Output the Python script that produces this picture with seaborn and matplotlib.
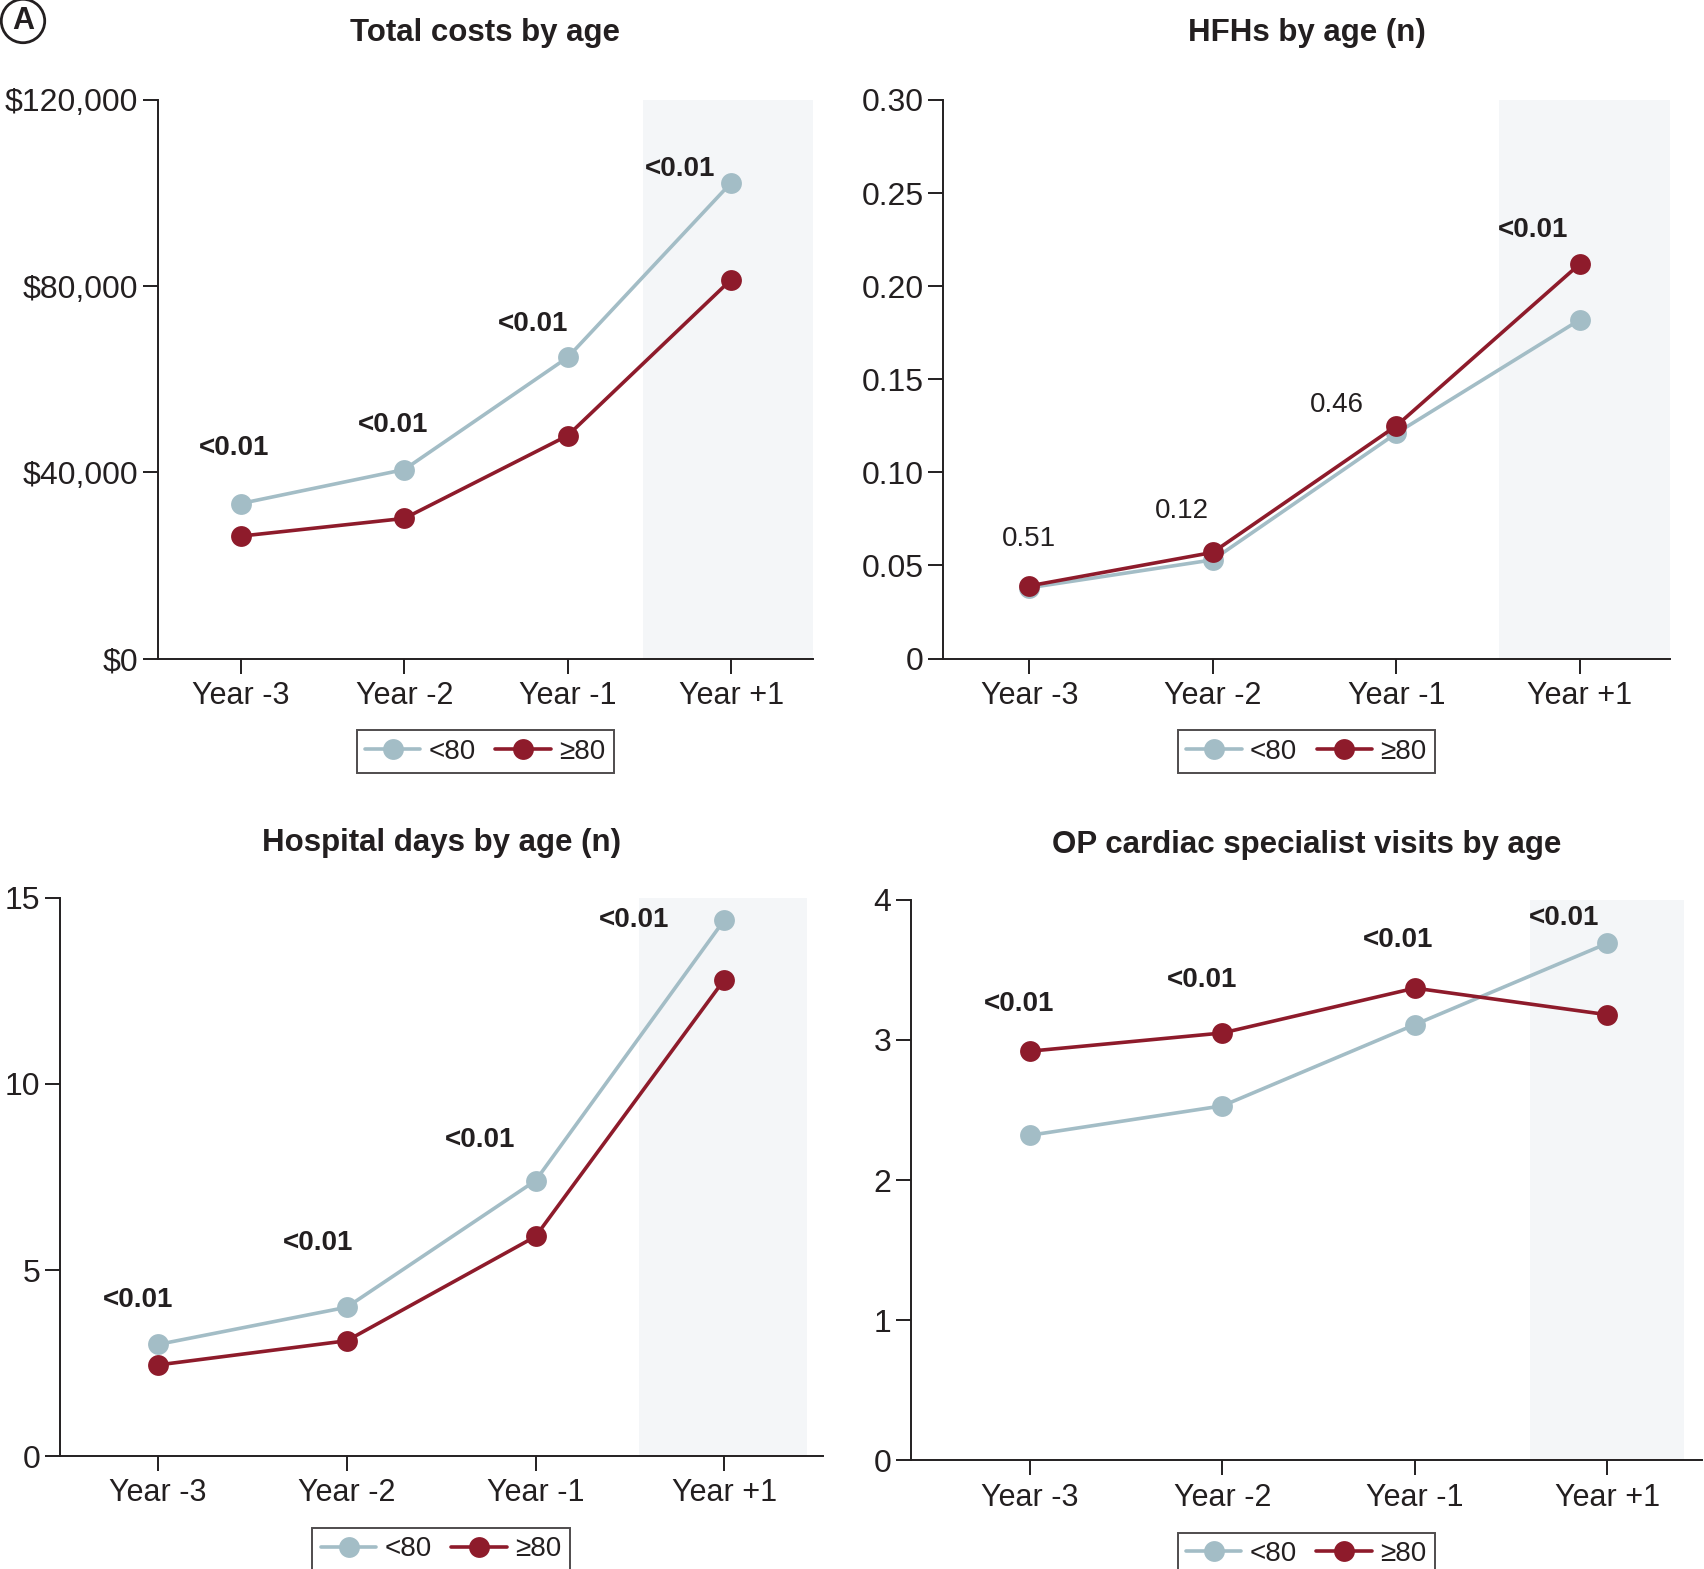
import numpy as np
import pandas as pd
import matplotlib
matplotlib.use("Agg")
import matplotlib.pyplot as plt
from matplotlib.lines import Line2D
import seaborn as sns

# Data ----------------------------------------------------------------
years = ["Year -3", "Year -2", "Year -1", "Year +1"]
groups = ["<80", "\u226580"]

titles = ["Total costs by age", "HFHs by age (n)",
          "Hospital days by age (n)", "OP cardiac specialist visits by age"]

costs_u80 = [33300, 40600, 64700, 102200]
costs_o80 = [26300, 30100, 47900, 81400]
costs_p = ["<0.01", "<0.01", "<0.01", "<0.01"]

hfh_u80 = [0.038, 0.053, 0.121, 0.182]
hfh_o80 = [0.039, 0.057, 0.125, 0.212]
hfh_p = ["0.51", "0.12", "0.46", "<0.01"]

days_u80 = [3.0, 4.0, 7.4, 14.4]
days_o80 = [2.45, 3.1, 5.9, 12.8]
days_p = ["<0.01", "<0.01", "<0.01", "<0.01"]

visits_u80 = [2.32, 2.53, 3.11, 3.69]
visits_o80 = [2.92, 3.05, 3.37, 3.18]
visits_p = ["<0.01", "<0.01", "<0.01", "<0.01"]

costs_ticks = [0, 40000, 80000, 120000]
costs_ticklabels = ["$0", "$40,000", "$80,000", "$120,000"]
hfh_ticks = [0, 0.05, 0.10, 0.15, 0.20, 0.25, 0.30]
hfh_ticklabels = ["0", "0.05", "0.10", "0.15", "0.20", "0.25", "0.30"]
days_ticks = [0, 5, 10, 15]
days_ticklabels = ["0", "5", "10", "15"]
visits_ticks = [0, 1, 2, 3, 4]
visits_ticklabels = ["0", "1", "2", "3", "4"]

# Style ---------------------------------------------------------------
c_u80 = "#A3BDC6"
c_o80 = "#8E1B2B"
c_shade = "#F4F6F8"
c_text = "#231F20"

sns.set_style("white")
plt.rcParams["font.family"] = ["Liberation Sans", "DejaVu Sans"]
plt.rcParams["text.color"] = c_text
plt.rcParams["axes.labelcolor"] = c_text
plt.rcParams["xtick.color"] = c_text
plt.rcParams["ytick.color"] = c_text

fig = plt.figure(figsize=(17.04, 15.69), dpi=100)

panels = [
    dict(u=costs_u80, o=costs_o80, p=costs_p, ticks=costs_ticks, tl=costs_ticklabels,
         rect=[0.0925, 0.5803, 0.3845, 0.356], xlim=(-0.51, 3.5), shade=(2.46, 3.5),
         title_y=1.12, off=[(-5, 40), (-8, 32), (-25, 24), (-37, 10)]),
    dict(u=hfh_u80, o=hfh_o80, p=hfh_p, ticks=hfh_ticks, tl=hfh_ticklabels,
         rect=[0.5534, 0.5803, 0.4266, 0.356], xlim=(-0.47, 3.49), shade=(2.56, 3.49),
         title_y=1.12, off=[(0, 34), (-22, 30), (-43, 15), (-34, 24)]),
    dict(u=days_u80, o=days_o80, p=days_p, ticks=days_ticks, tl=days_ticklabels,
         rect=[0.0351, 0.0719, 0.4476, 0.356], xlim=(-0.52, 3.52), shade=(2.55, 3.44),
         title_y=1.097, off=[(-14, 32), (-21, 46), (-40, 29), (-65, 0)]),
    dict(u=visits_u80, o=visits_o80, p=visits_p, ticks=visits_ticks, tl=visits_ticklabels,
         rect=[0.5344, 0.0692, 0.4643, 0.3573], xlim=(-0.62, 3.49), shade=(2.6, 3.4),
         title_y=1.097, off=[(-8, 34), (-15, 38), (-12, 35), (-31, 18)]),
]

for title, pnl in zip(titles, panels):
    ax = fig.add_axes(pnl["rect"])
    df = pd.DataFrame({
        "year": years * 2,
        "age": [groups[0]] * 4 + [groups[1]] * 4,
        "value": list(pnl["u"]) + list(pnl["o"]),
    })
    ax.axvspan(*pnl["shade"], color=c_shade, lw=0, zorder=0)
    sns.lineplot(data=df, x="year", y="value", hue="age", hue_order=groups,
                 palette=[c_u80, c_o80], marker="o", markersize=15,
                 markeredgewidth=0, linewidth=2.6, legend=False, ax=ax, zorder=3)

    ax.set_xlim(*pnl["xlim"])
    ax.set_ylim(pnl["ticks"][0], pnl["ticks"][-1])
    ax.set_xticks(range(len(years)))
    ax.set_xticklabels(years, fontsize=22)
    ax.set_yticks(pnl["ticks"])
    ax.set_yticklabels(pnl["tl"], fontsize=23)
    ax.set_xlabel("")
    ax.set_ylabel("")
    ax.tick_params(axis="both", direction="out", length=11, width=1.4,
                   left=True, bottom=True)
    ax.tick_params(axis="x", pad=5)
    ax.tick_params(axis="y", pad=3)
    sns.despine(ax=ax)
    for s in ["left", "bottom"]:
        ax.spines[s].set_linewidth(1.4)
        ax.spines[s].set_color(c_text)

    # p-values above each year
    for i, lab in enumerate(pnl["p"]):
        top = max(pnl["u"][i], pnl["o"][i])
        ax.annotate(lab, (i, top), xytext=pnl["off"][i], textcoords="offset points",
                    ha="center", va="center", fontsize=20,
                    fontweight="bold" if lab.startswith("<") else "normal")

    ax.text(0.5, pnl["title_y"], title, transform=ax.transAxes, ha="center",
            va="center", fontsize=22.5, fontweight="bold")

    handles = [Line2D([], [], color=c, marker="o", markersize=15, markeredgewidth=0,
                      linewidth=2.6) for c in (c_u80, c_o80)]
    leg = ax.legend(handles, groups, loc="center", bbox_to_anchor=(0.5, -0.167),
                    ncol=2, frameon=True, fancybox=False, fontsize=20,
                    handlelength=2.0, handletextpad=0.3, columnspacing=0.7,
                    borderpad=0.3, borderaxespad=0)
    leg.get_frame().set_edgecolor(c_text)
    leg.get_frame().set_linewidth(1.4)

fig.text(23 / 1704, 1 - 21 / 1569, "A", ha="center", va="center", fontsize=22,
         fontweight="bold",
         bbox=dict(boxstyle="circle,pad=0.22", fc="white", ec=c_text, lw=2.0))

fig.savefig("out.png", dpi=100)
